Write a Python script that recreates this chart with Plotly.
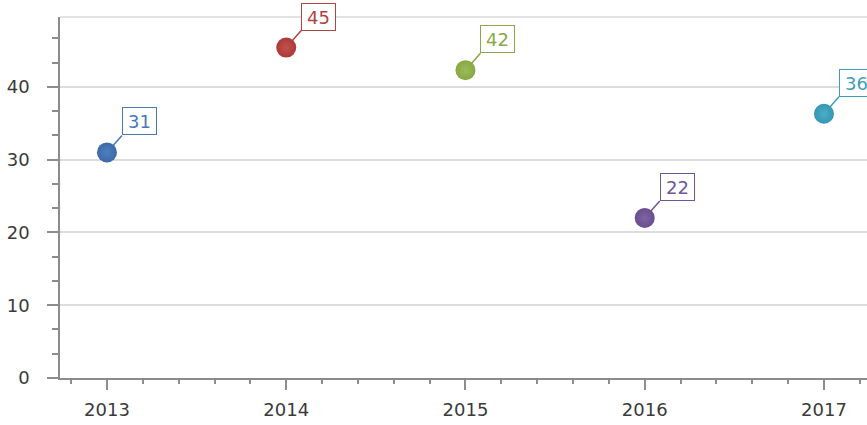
import plotly.graph_objects as go

years = [2013, 2014, 2015, 2016, 2017]
values = [31, 45.4, 42.3, 22, 36.3]
labels = ["31", "45", "42", "22", "36"]
marker_colors = ["#3a69a6", "#ac3937", "#86a842", "#694d8f", "#3596b1"]
marker_centers = ["#4f80bd", "#c2514e", "#9bbb5a", "#7f64a2", "#4badc7"]
label_colors = ["#4a78b5", "#b04442", "#88a84a", "#6f5596", "#3f9db7"]
ytick_vals = [0, 10, 20, 30, 40]

FONT = "DejaVu Sans"

fig = go.Figure()
fig.add_trace(go.Scatter(
    x=years, y=values, mode="markers",
    marker=dict(size=20, color=marker_colors,
                gradient=dict(type="radial", color=marker_centers),
                line=dict(width=0)),
    hoverinfo="skip", showlegend=False,
))

for x, y, t, c in zip(years, values, labels, label_colors):
    fig.add_annotation(
        x=x, y=y, xref="x", yref="y", text=t,
        showarrow=True, arrowhead=0, arrowwidth=1.5, arrowcolor=c,
        ax=15, ay=-17, xanchor="left", yanchor="bottom",
        standoff=9,
        font=dict(family=FONT, size=18, color=c),
        bordercolor=c, borderwidth=1, borderpad=1,
        bgcolor="white", width=31, height=24,
    )

fig.add_shape(type="line", xref="paper", yref="paper", x0=0, x1=1, y0=1, y1=1,
              line=dict(color="#d9d9d9", width=1.5), layer="below")

fig.update_layout(
    width=867, height=425,
    margin=dict(l=60, r=0, t=17, b=47),
    paper_bgcolor="white", plot_bgcolor="white",
    font=dict(family=FONT, size=18, color="#3a3a3a"),
    xaxis=dict(
        range=[2012.738, 2017.24], tickvals=years, ticktext=[str(y) for y in years],
        showgrid=False, zeroline=False,
        showline=True, linecolor="#8c8c8c", linewidth=1.5,
        ticks="outside", ticklen=10, tickwidth=1.5, tickcolor="#8c8c8c",
        minor=dict(dtick=0.2, tick0=2013, ticks="outside", ticklen=4,
                   tickwidth=1.5, tickcolor="#8c8c8c", showgrid=False),
        tickfont=dict(family=FONT, size=18, color="#3a3a3a"),
        ticklabelstandoff=5,
    ),
    yaxis=dict(
        range=[0, 49.6], tickvals=ytick_vals,
        showgrid=True, gridcolor="#dcdcdc", gridwidth=1.5,
        zeroline=False,
        showline=True, linecolor="#8c8c8c", linewidth=1.5,
        ticks="outside", ticklen=11, tickwidth=1.5, tickcolor="#8c8c8c",
        minor=dict(dtick=10/3, tick0=0, ticks="outside", ticklen=6,
                   tickwidth=1.5, tickcolor="#8c8c8c", showgrid=False),
        tickfont=dict(family=FONT, size=18, color="#3a3a3a"),
        ticklabelstandoff=14,
    ),
)

fig.write_html("out.html", config={"displayModeBar": False},
               post_script="document.body.style.margin='0';document.body.style.overflow='hidden';")
